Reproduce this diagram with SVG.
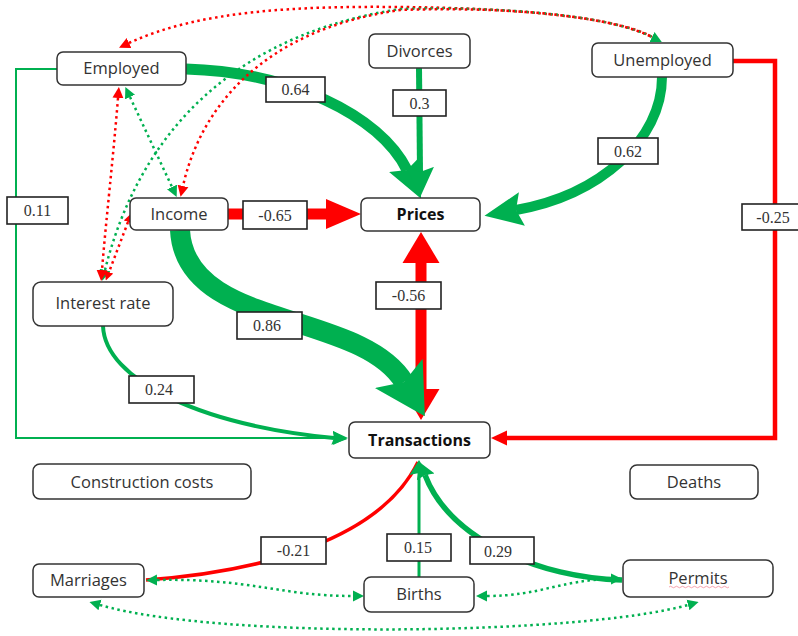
<svg xmlns="http://www.w3.org/2000/svg" width="798" height="636" viewBox="0 0 798 636">
<style>
.node rect{fill:#fff;stroke:#333;stroke-width:1.5}
.node text{font-family:"Open Sans","DejaVu Sans",sans-serif;font-size:16.5px;fill:#333;text-anchor:middle}
.node text.b{font-weight:bold;fill:#111;font-size:16px}
.lab rect{fill:#fff;stroke:#222;stroke-width:1.6}
.lab text{font-family:"Liberation Serif",serif;font-size:16px;fill:#333;text-anchor:middle}
.g{fill:none;stroke:#00b050}
.r{fill:none;stroke:#ff0000}
.dg{fill:none;stroke:#00b050;stroke-width:2.5;stroke-dasharray:2.5 3.5}
.dr{fill:none;stroke:#ff0000;stroke-width:2.5;stroke-dasharray:2.5 3.5}
</style>
<defs>
<marker id="hG1" markerUnits="userSpaceOnUse" viewBox="0 -18 38 36" markerWidth="38" markerHeight="36" refX="6" refY="0" orient="auto-start-reverse"><path d="M0,-17 L38,0 L0,17 L6,0 z" fill="#00b050"/></marker>
<marker id="hGD" markerUnits="userSpaceOnUse" viewBox="0 -15 30 30" markerWidth="30" markerHeight="30" refX="5" refY="0" orient="auto-start-reverse"><path d="M0,-14 L30,0 L0,14 L5,0 z" fill="#00b050"/></marker>
<marker id="hG3" markerUnits="userSpaceOnUse" viewBox="0 -29 50 58" markerWidth="50" markerHeight="58" refX="10" refY="0" orient="auto-start-reverse"><path d="M0,-28 L50,0 L0,28 L10,0 z" fill="#00b050"/></marker>
<marker id="hR1" markerUnits="userSpaceOnUse" viewBox="0 -16 35 32" markerWidth="35" markerHeight="32" refX="1" refY="0" orient="auto-start-reverse"><path d="M0,-15 L35,0 L0,15 z" fill="#ff0000"/></marker>
<marker id="hR2" markerUnits="userSpaceOnUse" viewBox="0 -19 31 38" markerWidth="31" markerHeight="38" refX="1" refY="0" orient="auto-start-reverse"><path d="M0,-18.5 L31,0 L0,18.5 z" fill="#ff0000"/></marker>
<marker id="hGs" markerUnits="userSpaceOnUse" viewBox="0 -8 15 16" markerWidth="15" markerHeight="16" refX="2" refY="0" orient="auto-start-reverse"><path d="M0,-7 L15,0 L0,7 L2,0 z" fill="#00b050"/></marker>
<marker id="hGb" markerUnits="userSpaceOnUse" viewBox="0 -10 15 20" markerWidth="15" markerHeight="20" refX="2" refY="0" orient="auto-start-reverse"><path d="M0,-9.5 L15,0 L0,9.5 L2,0 z" fill="#00b050"/></marker>
<marker id="hRs" markerUnits="userSpaceOnUse" viewBox="0 -8 16 16" markerWidth="16" markerHeight="16" refX="1" refY="0" orient="auto-start-reverse"><path d="M0,-7.5 L16,0 L0,7.5 z" fill="#ff0000"/></marker>
<marker id="hDg" markerUnits="userSpaceOnUse" viewBox="0 -6 11 12" markerWidth="11" markerHeight="12" refX="0" refY="0" orient="auto-start-reverse"><path d="M0,-5.5 L11,0 L0,5.5 z" fill="#00b050"/></marker>
<marker id="hDr" markerUnits="userSpaceOnUse" viewBox="0 -6 11 12" markerWidth="11" markerHeight="12" refX="0" refY="0" orient="auto-start-reverse"><path d="M0,-5.5 L11,0 L0,5.5 z" fill="#ff0000"/></marker>
<marker id="hDr2" markerUnits="userSpaceOnUse" viewBox="0 -5 9 10" markerWidth="9" markerHeight="10" refX="0" refY="0" orient="auto-start-reverse"><path d="M0,-4.5 L9,0 L0,4.5 z" fill="#ff0000"/></marker>
</defs>
<rect width="798" height="636" fill="#fff"/>
<g id="connectors">
<path class="g" stroke-width="2" d="M57,69 L16,69 L16,438 L335,438" marker-end="url(#hGs)"/>
<path class="r" stroke-width="4.5" d="M733,61 L775,61 L775,438 L506,438" marker-end="url(#hRs)"/>
<path class="g" stroke-width="4" d="M103,326 C105,380 200,425 334,438" marker-end="url(#hGs)"/>
<path class="g" stroke-width="11" d="M186,69 C290,72 380,115 407,170" marker-end="url(#hG1)"/>
<path class="g" stroke-width="6" d="M419,68 L420,172" marker-end="url(#hGD)"/>
<path class="g" stroke-width="10" d="M662,77 C662,140 600,195 516,210" marker-end="url(#hG1)"/>
<path class="r" stroke-width="11" d="M228,214 L327,214" marker-end="url(#hR1)"/>
<path class="r" stroke-width="11" d="M421,390 L421,262" marker-start="url(#hR2)" marker-end="url(#hR2)"/>
<path class="g" stroke-width="20" d="M180,230 C185,330 360,310 404,382" marker-end="url(#hG3)"/>
<path class="r" stroke-width="3.5" d="M146,580 C260,572 380,540 418,462"/>
<path class="g" stroke-width="3" d="M419,577 L419,473" marker-end="url(#hGb)"/>
<path class="g" stroke-width="5.5" d="M622,580 C540,578 450,540 425,475" marker-end="url(#hGb)"/>
<path class="dr" d="M129,43 C200,10 300,6 400,7 C520,8 620,18 652,37" marker-start="url(#hDr)"/>
<path class="dg" d="M105,270 C130,170 200,40 400,9 C520,6 615,18 652,37" marker-start="url(#hDg)" marker-end="url(#hDg)"/>
<path class="dr" stroke-dashoffset="3" d="M183,186 C200,110 260,30 400,10 C520,6 615,18 652,37" marker-start="url(#hDr)"/>
<path class="dr" d="M118,98 C113,160 106,220 102,270" marker-start="url(#hDr)" marker-end="url(#hDr)"/>
<path class="dg" d="M130,97 L172,187" marker-start="url(#hDg)" marker-end="url(#hDg)"/>
<path class="dr" stroke-width="1.6" stroke-dasharray="2 3" d="M128,222 L109,272" marker-start="url(#hDr2)" marker-end="url(#hDr2)"/>
<path class="dg" d="M157,580 C250,578 280,596 353,596" marker-start="url(#hDg)" marker-end="url(#hDg)"/>
<path class="dg" d="M487,596 C540,596 560,580 611,579" marker-start="url(#hDg)" marker-end="url(#hDg)"/>
<path class="dg" d="M100,605 C220,640 580,635 688,605" marker-start="url(#hDg)" marker-end="url(#hDg)"/>
<g class="lab"><rect x="266" y="77" width="59" height="25"/><text x="295.5" y="95">0.64</text></g>
<g class="lab"><rect x="393" y="90" width="53" height="26"/><text x="419.5" y="109">0.3</text></g>
<g class="lab"><rect x="598" y="138" width="60" height="26"/><text x="628" y="157">0.62</text></g>
<g class="lab"><rect x="7" y="197" width="61" height="27"/><text x="37.5" y="216">0.11</text></g>
<g class="lab"><rect x="243" y="201" width="64" height="28"/><text x="275" y="221">-0.65</text></g>
<g class="lab"><rect x="742" y="204" width="62" height="26"/><text x="773" y="223">-0.25</text></g>
<g class="lab"><rect x="376" y="282" width="65" height="27"/><text x="408.5" y="301">-0.56</text></g>
<g class="lab"><rect x="237" y="312" width="65" height="27"/><text x="267" y="331">0.86</text></g>
<g class="lab"><rect x="129" y="376" width="65" height="27"/><text x="159" y="395">0.24</text></g>
<g class="lab"><rect x="261" y="537" width="65" height="27"/><text x="293.5" y="556">-0.21</text></g>
<g class="lab"><rect x="387" y="534" width="64" height="27"/><text x="418" y="553">0.15</text></g>
<g class="lab"><rect x="470" y="537" width="64" height="27"/><text x="498" y="557">0.29</text></g>
</g>
<g id="employed" class="node"><rect x="57" y="52" width="129" height="33" rx="6"/><text x="121.5" y="74">Employed</text></g>
<g id="divorces" class="node"><rect x="369" y="34" width="101" height="34" rx="6"/><text x="419.5" y="57">Divorces</text></g>
<g id="unemployed" class="node"><rect x="592" y="43" width="141" height="34" rx="6"/><text x="662.5" y="66">Unemployed</text></g>
<g id="income" class="node"><rect x="130" y="198" width="98" height="32" rx="6"/><text x="179" y="220">Income</text></g>
<g id="prices" class="node"><rect x="361" y="198" width="119" height="33" rx="6"/><text class="b" x="420.5" y="220">Prices</text></g>
<g id="interest-rate" class="node"><rect x="33" y="282" width="140" height="44" rx="8"/><text x="103" y="309">Interest rate</text></g>
<g id="transactions" class="node"><rect x="349" y="422" width="141" height="36" rx="6"/><text class="b" x="419.5" y="446">Transactions</text></g>
<g id="construction-costs" class="node"><rect x="33" y="464" width="218" height="35" rx="7"/><text x="142" y="488">Construction costs</text></g>
<g id="deaths" class="node"><rect x="630" y="465" width="128" height="34" rx="7"/><text x="694" y="488">Deaths</text></g>
<g id="marriages" class="node"><rect x="33" y="564" width="111" height="33" rx="6"/><text x="88.5" y="586">Marriages</text></g>
<g id="births" class="node"><rect x="364" y="577" width="110" height="35" rx="7"/><text x="419" y="600">Births</text></g>
<g id="permits" class="node"><rect x="623" y="560" width="150" height="37" rx="7"/><text x="698" y="584">Permits</text><path d="M669,587 q1.5,-1.5 3,0 t3,0 t3,0 t3,0 t3,0 t3,0 t3,0 t3,0 t3,0 t3,0 t3,0 t3,0 t3,0 t3,0 t3,0 t3,0 t3,0 t3,0 t3,0 t3,0" fill="none" stroke="#f28b9a" stroke-width="0.8"/></g>
</svg>
